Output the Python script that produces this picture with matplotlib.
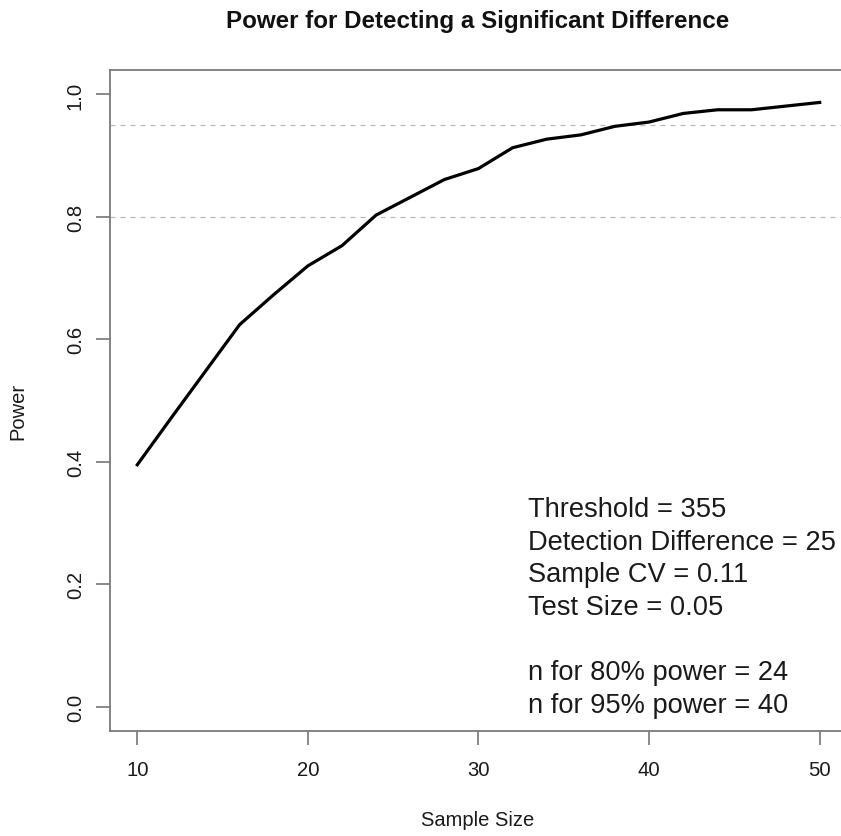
import matplotlib
matplotlib.use("Agg")
import matplotlib.pyplot as plt
import numpy as np

# sample size vs estimated power
sample_size = [10, 12, 14, 16, 18, 20, 22, 24, 26, 28, 30,
               32, 34, 36, 38, 40, 42, 44, 46, 48, 50]
power = [0.395, 0.472, 0.548, 0.624, 0.673, 0.720, 0.753, 0.803, 0.832, 0.861, 0.879,
         0.913, 0.927, 0.934, 0.948, 0.955, 0.969, 0.975, 0.975, 0.981, 0.987]
ref_lines = [0.80, 0.95]

x_ticks = [10, 20, 30, 40, 50]
y_ticks = [0.0, 0.2, 0.4, 0.6, 0.8, 1.0]

notes = ["Threshold = 355",
         "Detection Difference = 25",
         "Sample CV = 0.11",
         "Test Size = 0.05",
         "",
         "n for 80% power = 24",
         "n for 95% power = 40"]

plt.rcParams['font.family'] = ['Liberation Sans', 'DejaVu Sans']

W, H = 841, 837
fig = plt.figure(figsize=(W / 100, H / 100), dpi=100)
ax = fig.add_axes([110 / W, 1 - 732 / H, (847 - 110) / W, (732 - 71) / H])

for y in ref_lines:
    ax.axhline(y, color="#b8b8b8", lw=0.9, ls=(0, (4, 4)), zorder=1)

ax.plot(sample_size, power, color="black", lw=2.3, solid_joinstyle="round", zorder=3)

ax.set_xlim(8.4, 51.6)
ax.set_ylim(-0.04, 1.04)
ax.set_xticks(x_ticks)
ax.set_yticks(y_ticks)
ax.set_xticklabels([str(t) for t in x_ticks])
ax.set_yticklabels(["%.1f" % t for t in y_ticks])

for s in ax.spines.values():
    s.set_color("#7a7a7a")
    s.set_linewidth(1.3)

ax.tick_params(axis="both", length=10, width=1.1, color="#6a6a6a",
               labelsize=14.6, labelcolor="#1a1a1a")
ax.tick_params(axis="x", pad=11)
ax.tick_params(axis="y", pad=8)
for lab in ax.get_yticklabels():
    lab.set_rotation(90)
    lab.set_va("center")
    lab.set_ha("right")

fig.text(478 / W, 1 - 28 / H, "Power for Detecting a Significant Difference",
         ha="center", va="baseline", fontsize=17.4, fontweight="bold", color="#111111")
fig.text(478 / W, 1 - 826 / H, "Sample Size", ha="center", va="baseline",
         fontsize=14.5, color="#1a1a1a")
fig.text(27 / W, 1 - 411 / H, "Power", ha="right", va="center", rotation=90,
         fontsize=14.5, color="#1a1a1a")

for i, line in enumerate(notes):
    fig.text(528 / W, 1 - (517 + i * 32.6) / H, line, ha="left", va="baseline",
             fontsize=19.6, color="#1a1a1a")

fig.savefig("out.png", dpi=100, facecolor="white")
